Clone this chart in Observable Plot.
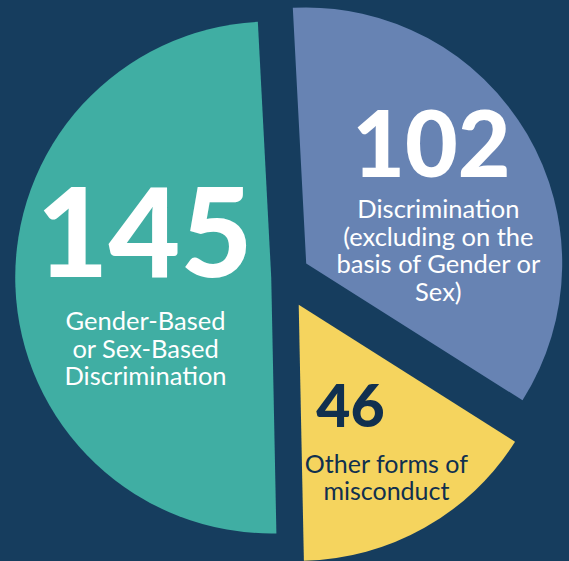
<!DOCTYPE html>
<html>
<head>
<meta charset="utf-8">
<script src="https://cdn.jsdelivr.net/npm/d3@7"></script>
<script src="https://cdn.jsdelivr.net/npm/@observablehq/plot@0.6"></script>
<style>
  html, body { margin: 0; padding: 0; background: #163d5e; }
  #chart svg { display: block; }
</style>
</head>
<body>
<div id="chart"></div>
<script>
// ---- Data ----
const categories = [
  "Discrimination (excluding on the basis of Gender or Sex)",
  "Other forms of misconduct",
  "Gender-Based or Sex-Based Discrimination"
];
const counts = [102, 46, 145];
const labelLines = [
  "Discrimination\n(excluding on the\nbasis of Gender or\nSex)",
  "Other forms of\nmisconduct",
  "Gender-Based\nor Sex-Based\nDiscrimination"
];

// ---- Styles / layout (not data) ----
const sliceColors = ["#6783b3", "#f5d45e", "#40aea3"];
const textColors = ["#ffffff", "#10304f", "#ffffff"];
const explode = [0.105, 0.125, 0.046];          // in radius units
const W = 569, H = 561, RPX = 256, CX = 283, CY = 277;
const START = -3 * Math.PI / 180;
// label anchors (radius units, relative to pie centre): [numX, numTop, lblX, lblTop]
const labelPos = [
  [0.578, 0.645, 0.605, 0.31],
  [0.262, -0.42, 0.402, -0.69],
  [-0.543, 0.345, -0.539, -0.13]
];
const numSize = [91, 59, 124];
const lblSize = [25.5, 25, 25.5];
const lblLead = [1.09, 1.08, 1.08];

const arcs = d3.pie().sort(null).startAngle(START).endAngle(START + 2 * Math.PI)(counts);

function pieSlices(index, scales) {
  const g = d3.create("svg:g");
  const R = scales.x(1) - scales.x(0);
  const arc = d3.arc().innerRadius(0).outerRadius(R);
  arcs.forEach((a, i) => {
    const mid = (a.startAngle + a.endAngle) / 2;
    const px = scales.x(explode[i] * Math.sin(mid));
    const py = scales.y(explode[i] * Math.cos(mid));
    g.append("path")
      .attr("transform", `translate(${px},${py})`)
      .attr("d", arc(a))
      .attr("fill", sliceColors[i]);
  });
  return g.node();
}

const textMarks = [];
counts.forEach((c, i) => {
  const [nx, ny, lx, ly] = labelPos[i];
  textMarks.push(Plot.text([{x: nx, y: ny, t: String(c)}], {
    x: "x", y: "y", text: "t", fill: textColors[i],
    fontSize: numSize[i], fontWeight: 900, fontFamily: "Lato",
    lineAnchor: "top", textAnchor: "middle"
  }));
  textMarks.push(Plot.text([{x: lx, y: ly, t: labelLines[i]}], {
    x: "x", y: "y", text: "t", fill: textColors[i],
    fontSize: lblSize[i], fontWeight: 400, fontFamily: "Lato",
    lineAnchor: "top", textAnchor: "middle", lineHeight: lblLead[i]
  }));
});

const chart = Plot.plot({
  width: W,
  height: H,
  margin: 0,
  x: {domain: [-CX / RPX, (W - CX) / RPX], axis: null},
  y: {domain: [-(H - CY) / RPX, CY / RPX], axis: null},
  style: {background: "#163d5e", overflow: "hidden"},
  marks: [pieSlices, ...textMarks]
});
document.getElementById("chart").append(chart);
</script>
</body>
</html>
